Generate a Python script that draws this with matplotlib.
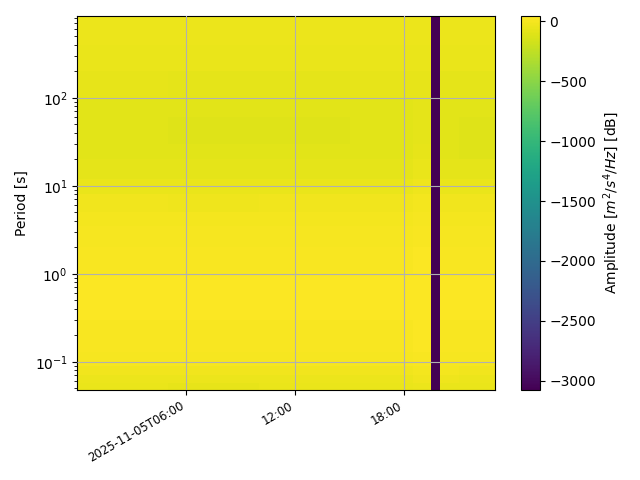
import numpy as np
import matplotlib
matplotlib.use("Agg")
import matplotlib.pyplot as plt
import matplotlib.dates as mdates
from datetime import datetime, timedelta

day = datetime(2025, 11, 5)

# limites des colonnes en heures
time_edges = [0, 5, 10, 15, 18.5, 19.47, 19.97, 21, 23]
# limites des lignes en secondes
period_edges = [0.048, 0.058, 0.07, 0.09, 0.13, 0.3, 1, 2, 3.5, 5, 8, 12, 20, 30, 60, 100, 200, 400, 855]

# amplitude en dB, ligne du bas en premier
amplitude = [
    [-64, -66, -64, -64, -44, -3075, -58, -62],
    [-44, -46, -44, -42, -26, -3075, -38, -42],
    [-20, -22, -18, -18, -6, -3075, -14, -18],
    [4, 2, 6, 6, 14, -3075, 8, 6],
    [20, 18, 20, 20, 24, -3075, 20, 20],
    [26, 25, 26, 26, 28, -3075, 26, 26],
    [20, 18, 20, 18, 22, -3075, 18, 18],
    [6, 4, 6, 6, 12, -3075, 6, 6],
    [-8, -10, -6, -8, 2, -3075, -8, -10],
    [-26, -30, -24, -26, -10, -3075, -28, -28],
    [-56, -62, -58, -58, -34, -3075, -60, -62],
    [-82, -88, -86, -86, -60, -3075, -86, -88],
    [-94, -100, -100, -98, -72, -3075, -98, -102],
    [-96, -102, -102, -100, -80, -3075, -100, -104],
    [-90, -96, -94, -92, -82, -3075, -94, -98],
    [-76, -80, -78, -76, -74, -3075, -78, -80],
    [-60, -62, -62, -58, -60, -3075, -62, -64],
    [-44, -46, -46, -42, -44, -3075, -46, -46],
]

tick_hours = [6, 12, 18]
tick_labels = ["2025-11-05T06:00", "12:00", "18:00"]

x_edges = mdates.date2num([day + timedelta(hours=h) for h in time_edges])
x_ticks = mdates.date2num([day + timedelta(hours=h) for h in tick_hours])

fig, ax = plt.subplots()

mesh = ax.pcolormesh(x_edges, period_edges, np.array(amplitude),
                     cmap="viridis", vmin=-3075, vmax=45)
ax.set_yscale("log")
ax.set_ylabel("Period [s]")
ax.grid(True)
ax.set_axisbelow(False)

ax.set_xticks(x_ticks)
ax.set_xticklabels(tick_labels)
fig.autofmt_xdate()
for label in ax.get_xticklabels():
    label.set_fontsize("small")

cbar = fig.colorbar(mesh, ax=ax)
cbar.set_label(r"Amplitude [$m^2/s^4/Hz$] [dB]")

fig.tight_layout()
fig.savefig("out.png", dpi=100)
